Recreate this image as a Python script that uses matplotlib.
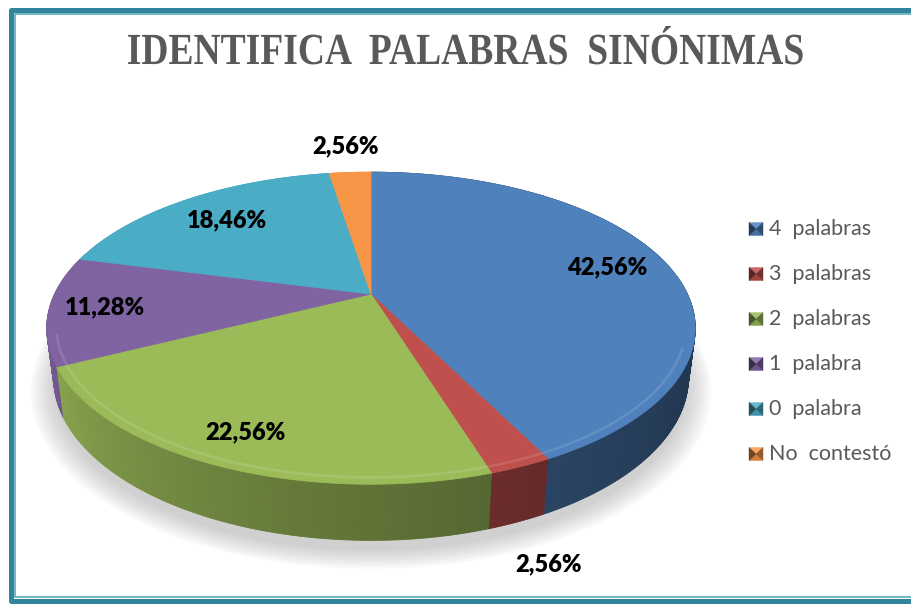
import numpy as np
import matplotlib
matplotlib.use("Agg")
import matplotlib.pyplot as plt
import matplotlib.colors as mcolors
from matplotlib.collections import PolyCollection
from matplotlib.patches import Polygon
from matplotlib.patheffects import AbstractPathEffect
from matplotlib.transforms import Affine2D

# ---------------- data ----------------
title = "IDENTIFICA  PALABRAS  SINÓNIMAS"
categories = ["4  palabras", "3  palabras", "2  palabras", "1  palabra", "0  palabra", "No  contestó"]
values = [42.56, 2.56, 22.56, 11.28, 18.46, 2.56]
colors = ["#4F81BD", "#C0504D", "#9BBB59", "#8064A2", "#4BACC6", "#F79646"]
label_r = [0.80, 1.36, 0.84, 0.83, 0.76, 1.28]     # label radius (style)
label_dphi = [0, -5, 0, 0, 0, 0]                    # label angle nudge (style)
pct_labels = [f"{v:.2f}".replace(".", ",") + "%" for v in values]

# ---------------- figure ----------------
W, Hpx = 911, 604
fig = plt.figure(figsize=(W / 100, Hpx / 100), dpi=100)
ax = fig.add_axes([0, 0, 1, 1])
ax.set_xlim(0, W)
ax.set_ylim(Hpx, 0)
ax.axis("off")

# perspective camera
elev = np.radians(28)
Lc = 4.03
kscale = 1275
cx, cy = 371, 294
Hdepth = 0.175


def proj(phi_deg, r, z):
    phi = np.radians(np.asarray(phi_deg, dtype=float))
    x = r * np.cos(phi)
    y = r * np.sin(phi)
    z = np.asarray(z, dtype=float) + 0 * x
    depth = y * np.cos(elev) + Lc - z * np.sin(elev)
    up = y * np.sin(elev) + z * np.cos(elev)
    return cx + kscale * x / depth, cy - kscale * up / depth, depth


def light(phi_deg):
    t = (phi_deg + 180) % 360 - 180  # (-180,180]
    if t > 90:
        return 1.0
    if t > 0:
        return 0.4
    return 0.4 + 0.6 * ((-t) / 180.0) ** 1.5


def shade(c, f):
    rgb = np.array(mcolors.to_rgb(c))
    return tuple(np.clip(rgb * f, 0, 1))


def tint(c, f):
    rgb = np.array(mcolors.to_rgb(c))
    return tuple(rgb + (1 - rgb) * f)


class Stretch(AbstractPathEffect):
    """Scale rendered text about a display-space centre (keeps text as text)."""

    def __init__(self, sx, sy, center):
        super().__init__()
        self.sx, self.sy, self.center = sx, sy, center

    def draw_path(self, renderer, gc, tpath, affine, rgbFace=None):
        ccx, ccy = self.center
        t = affine + Affine2D().translate(-ccx, -ccy).scale(self.sx, self.sy).translate(ccx, ccy)
        renderer.draw_path(gc, tpath, t, rgbFace)


total = sum(values)
fracs = [v / total for v in values]
starts = []
a = 90.0
for f in fracs:
    starts.append((a, a - f * 360))
    a -= f * 360

# ---------------- shadow ----------------
phis_all = np.linspace(0, 360, 361)
for eps in np.linspace(0.0, 0.07, 8):
    sx, sy, _ = proj(phis_all, 1.0 + eps, -Hdepth - 0.02)
    ax.fill(sx, sy + 4, color="#7f7f7f", alpha=0.05, lw=0, zorder=1)

# ---------------- side faces ----------------
quads, qcols, qdep = [], [], []
for (a1, a2), col in zip(starts, colors):
    n = max(3, int(abs(a2 - a1) * 2))
    ph = np.linspace(a1, a2, n + 1)
    for j in range(n):
        p, q = ph[j], ph[j + 1]
        x1, y1, d1 = proj(p, 1.0, 0)
        x2, y2, d2 = proj(q, 1.0, 0)
        x3, y3, d3 = proj(q, 1.0, -Hdepth)
        x4, y4, d4 = proj(p, 1.0, -Hdepth)
        quads.append([(x1, y1), (x2, y2), (x3, y3), (x4, y4)])
        qcols.append(shade(col, light(0.5 * (p + q))))
        qdep.append((d1 + d2 + d3 + d4) / 4)
order = np.argsort(qdep)[::-1]
pc = PolyCollection([quads[i] for i in order], facecolors=[qcols[i] for i in order],
                    edgecolors=[qcols[i] for i in order], linewidths=0.6, zorder=2)
ax.add_collection(pc)

# ---------------- top faces ----------------
for (a1, a2), col in zip(starts, colors):
    n = max(3, int(abs(a2 - a1) * 2))
    ph = np.linspace(a1, a2, n + 1)
    rx, ry, _ = proj(ph, 1.0, 0)
    ox, oy, _ = proj(0, 0.0, 0)
    pts = np.column_stack([np.r_[ox, rx], np.r_[oy, ry]])
    ax.add_patch(Polygon(pts, closed=True, facecolor=col, edgecolor=col, lw=0.6, zorder=3))
    # soft bevel highlight along the front rim
    t = (ph + 180) % 360 - 180
    sel = (t <= -20) & (t >= -165)
    front = ph[sel]
    if len(front) > 1:
        hx, hy, _ = proj(front, 0.972, 0)
        ax.plot(hx, hy, color=tint(col, 0.3), lw=1.8, alpha=0.4, zorder=4,
                solid_capstyle="butt")

# ---------------- data labels ----------------
for (a1, a2), lab, r, dphi in zip(starts, pct_labels, label_r, label_dphi):
    mid = 0.5 * (a1 + a2) + dphi
    lx, ly, _ = proj(mid, r, 0)
    ax.text(lx, ly, lab, ha="center", va="center", fontsize=17, fontweight="heavy",
            family="Lato", color="black", zorder=6)

# ---------------- title ----------------
tx, ty = 466, 53
ax.text(tx, ty, title, ha="center", va="center", fontsize=32, fontweight="bold",
        family="Liberation Serif", color="#595959", zorder=6,
        path_effects=[Stretch(0.845, 1.0, (tx, Hpx - ty))])

# ---------------- legend ----------------
lx0, ly0, dy, s = 749, 229, 45.0, 14
for i, (cat, col) in enumerate(zip(categories, colors)):
    yc = ly0 + i * dy
    x0, x1 = lx0, lx0 + s
    y0, y1 = yc - s / 2 + 0.5, yc + s / 2 - 0.5
    xm, ym = (x0 + x1) / 2, yc
    tris = [
        ([(x0, y0), (x1, y0), (xm, ym)], tint(col, 0.15)),   # top
        ([(x0, y1), (x1, y1), (xm, ym)], shade(col, 0.85)),  # bottom
        ([(x0, y0), (x0, y1), (xm, ym)], shade(col, 0.45)),  # left
        ([(x1, y0), (x1, y1), (xm, ym)], shade(col, 0.6)),   # right
    ]
    for pts, c in tris:
        ax.add_patch(Polygon(pts, closed=True, facecolor=c, edgecolor=c, lw=0.3, zorder=6))
    ax.text(x1 + 6, yc, cat, ha="left", va="center", fontsize=15.5, family="Lato",
            color="#595959", zorder=6)

# ---------------- border ----------------
bc = "#31849B"
ax.plot([930, 10.5, 10.5, 930], [9.5, 9.5, 600.5, 600.5], color=bc, lw=3.6,
        solid_joinstyle="round", zorder=7)
ax.plot([930, 14.5, 14.5, 930], [13.8, 13.8, 596.5, 596.5], color="#4BA3B5", lw=1.1,
        zorder=7)

fig.savefig("out.png", dpi=100)
